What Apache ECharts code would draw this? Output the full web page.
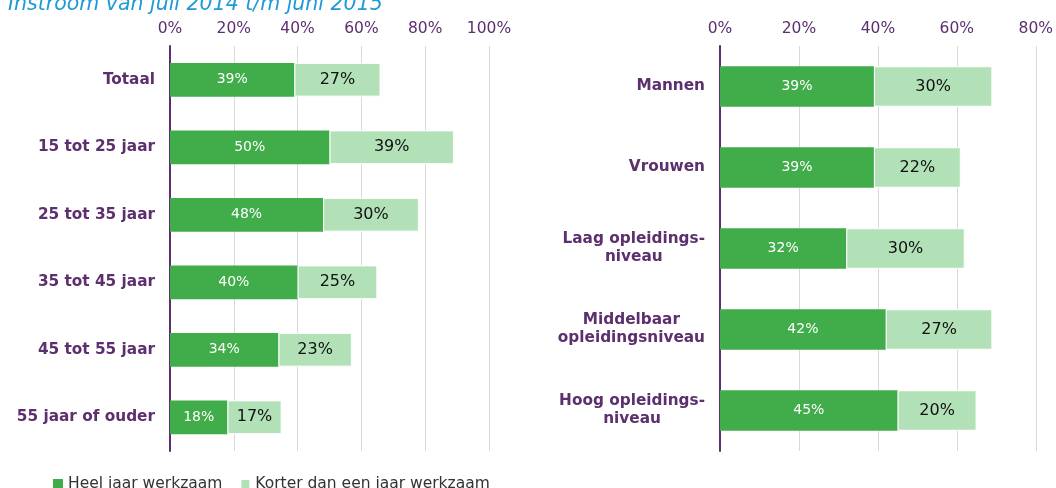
<!DOCTYPE html>
<html>
<head>
<meta charset="utf-8">
<script src="https://cdn.jsdelivr.net/npm/echarts@6/dist/echarts.min.js"></script>
<style>
  html, body { margin: 0; padding: 0; background: #fff; }
  #chart { width: 1056px; height: 488px; }
</style>
</head>
<body>
<div id="chart"></div>
<script>
// leeftijdsgroepen (links)
var ageCats = ['Totaal', '15 tot 25 jaar', '25 tot 35 jaar', '35 tot 45 jaar', '45 tot 55 jaar', '55 jaar of ouder'];
var ageHeel = [39, 50, 48, 40, 34, 18];
var ageKorter = [27, 39, 30, 25, 23, 17];

// geslacht / opleiding (rechts)
var groupCats = ['Mannen', 'Vrouwen', 'Laag opleidings-\nniveau', 'Middelbaar\nopleidingsniveau', 'Hoog opleidings-\nniveau'];
var groupHeel = [39, 39, 32, 42, 45];
var groupKorter = [30, 22, 30, 27, 20];

var seriesNames = ['Heel jaar werkzaam', 'Korter dan een jaar werkzaam'];
var titleText = 'Instroom van juli 2014 t/m juni 2015';

var purple = '#5c2f6e';
var darkGreen = '#40ad4a';
var lightGreen = '#b2e1b7';
var font = 'DejaVu Sans';

var chart = echarts.init(document.getElementById('chart'));

function xAx(idx, max) {
    return {
        type: 'value',
        gridIndex: idx,
        position: 'top',
        min: 0,
        max: max,
        interval: 20,
        axisLine: {show: false},
        axisTick: {show: false},
        axisLabel: {
            color: purple,
            fontSize: 15.5,
            fontFamily: font,
            margin: 9,
            formatter: '{value}%'
        },
        splitLine: {lineStyle: {color: '#d9d9d9', width: 1}}
    };
}

function yAx(idx, cats) {
    return {
        type: 'category',
        gridIndex: idx,
        data: cats,
        inverse: true,
        axisLine: {lineStyle: {color: purple, width: 2}},
        axisTick: {show: false},
        axisLabel: {
            margin: 15,
            formatter: function (v) {
                return v.split('\n').map(function (s) { return '{c|' + s + '}'; }).join('\n');
            },
            rich: {
                c: {
                    align: 'center',
                    color: purple,
                    fontWeight: 'bold',
                    fontSize: 15.3,
                    fontFamily: font,
                    lineHeight: 18
                }
            }
        }
    };
}

function barSeries(name, data, idx, stack, dark) {
    return {
        name: name,
        type: 'bar',
        xAxisIndex: idx,
        yAxisIndex: idx,
        stack: stack,
        barWidth: '50%',
        data: data,
        itemStyle: {
            color: dark ? darkGreen : lightGreen,
            borderColor: '#ffffff',
            borderWidth: dark ? 0 : 1
        },
        label: {
            show: true,
            position: 'inside',
            formatter: '{c}%',
            color: dark ? '#ffffff' : '#111111',
            fontSize: dark ? 14 : 16,
            fontFamily: font
        }
    };
}

chart.setOption({
    animation: false,
    textStyle: {fontFamily: font},
    title: {
        text: titleText,
        left: 8,
        top: -5,
        padding: 0,
        textStyle: {
            color: '#1e9ad6',
            fontStyle: 'italic',
            fontWeight: 'normal',
            fontSize: 20.5,
            fontFamily: font
        }
    },
    legend: {
        data: seriesNames,
        left: 53,
        top: 476,
        padding: 0,
        icon: 'rect',
        itemWidth: 10,
        itemHeight: 10,
        itemGap: 17,
        textStyle: {color: '#333333', fontSize: 15.5, fontFamily: font}
    },
    grid: [
        {left: 170, right: 567, top: 46, bottom: 37},
        {left: 720, right: 20, top: 46, bottom: 37}
    ],
    xAxis: [xAx(0, 100), xAx(1, 80)],
    yAxis: [yAx(0, ageCats), yAx(1, groupCats)],
    series: [
        barSeries(seriesNames[0], ageHeel, 0, 'leeftijd', true),
        barSeries(seriesNames[1], ageKorter, 0, 'leeftijd', false),
        barSeries(seriesNames[0], groupHeel, 1, 'groep', true),
        barSeries(seriesNames[1], groupKorter, 1, 'groep', false)
    ]
});
</script>
</body>
</html>
